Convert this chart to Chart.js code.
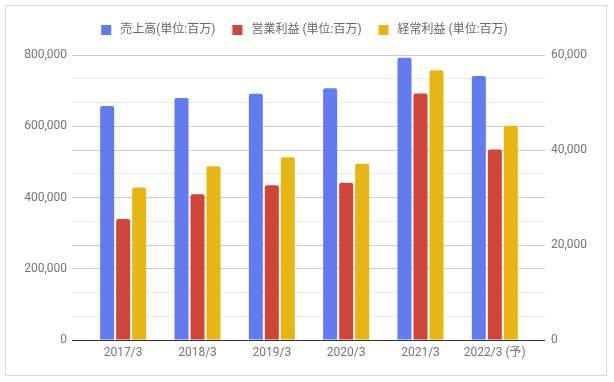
<!DOCTYPE html>
<html>
<head>
<meta charset="utf-8">
<script src="https://cdn.jsdelivr.net/npm/chart.js@4/dist/chart.umd.min.js"></script>
<style>
html,body{margin:0;padding:0;background:#fff;}
#wrap{width:614px;height:382px;position:relative;}
</style>
</head>
<body>
<div id="wrap"><canvas id="c" width="614" height="382"></canvas></div>
<script>
const categories = ['2017/3', '2018/3', '2019/3', '2020/3', '2021/3', '2022/3 (予)'];
const seriesNames = ['売上高(単位:百万)', '営業利益 (単位:百万)', '経常利益 (単位:百万)'];
const sales = [657000, 679000, 691000, 707000, 792000, 741000];
const operatingProfit = [25500, 30700, 32600, 33100, 51900, 40100];
const ordinaryProfit = [32100, 36600, 38500, 37100, 56800, 45100];
const leftTicks = [0, 200000, 400000, 600000, 800000];
const leftTickLabels = ['0', '200,000', '400,000', '600,000', '800,000'];
const rightTicks = [0, 20000, 40000, 60000];
const rightTickLabels = ['0', '20,000', '40,000', '60,000'];
const colors = ['#627bf1', '#cf4539', '#e7b614'];

const SUB = 12; // gridline subdivisions shared by both axes
const leftMax = leftTicks[leftTicks.length - 1];
const rightMax = rightTicks[rightTicks.length - 1];
const leftPer = SUB / (leftTicks.length - 1);   // 3
const rightPer = SUB / (rightTicks.length - 1); // 4

function gridColor(i) {
  if (i === 0) return '#333333';
  if (i % leftPer === 0 || i % rightPer === 0) return '#cccccc';
  return '#ebebeb';
}

Chart.defaults.font.family = "Roboto, 'Noto Sans CJK JP', 'Noto Sans', sans-serif";
Chart.defaults.font.size = 12;

const frame = {
  id: 'frame',
  beforeDraw(chart) {
    const ctx = chart.ctx;
    ctx.save();
    ctx.fillStyle = '#ffffff';
    ctx.fillRect(0, 0, chart.width, chart.height);
    ctx.strokeStyle = '#d9d9d9';
    ctx.lineWidth = 1;
    ctx.strokeRect(5.5, 5.5, 601, 370);
    ctx.restore();
  }
};

const legendSpacer = {
  id: 'legendSpacer',
  beforeUpdate(chart) {
    const lg = chart.legend;
    if (lg && !lg._spaced) {
      const fit = lg.fit;
      lg.fit = function () { fit.call(this); this.height += 7; };
      lg._spaced = true;
    }
  }
};

new Chart(document.getElementById('c'), {
  type: 'bar',
  data: {
    labels: categories,
    datasets: [
      { label: seriesNames[0], data: sales, backgroundColor: colors[0], yAxisID: 'y' },
      { label: seriesNames[1], data: operatingProfit, backgroundColor: colors[1], yAxisID: 'y1' },
      { label: seriesNames[2], data: ordinaryProfit, backgroundColor: colors[2], yAxisID: 'y1' }
    ]
  },
  options: {
    responsive: false,
    animation: false,
    devicePixelRatio: 1,
    layout: { padding: { top: 8, left: 0, right: 8, bottom: 0 } },
    datasets: {
      bar: { categoryPercentage: 0.646, barPercentage: 0.875, borderRadius: 2, borderSkipped: 'start' }
    },
    plugins: {
      legend: {
        position: 'top',
        labels: {
          boxWidth: 16, boxHeight: 16, padding: 14, color: '#666666',
          font: { size: 12 },
          generateLabels(chart) {
            return chart.data.datasets.map((ds, i) => ({
              text: ds.label,
              fillStyle: ds.backgroundColor,
              strokeStyle: '#ffffff',
              lineWidth: 6,
              fontColor: '#666666',
              hidden: !chart.isDatasetVisible(i),
              datasetIndex: i
            }));
          }
        }
      },
      tooltip: { enabled: false }
    },
    scales: {
      x: {
        grid: { display: false, drawTicks: false },
        border: { display: false },
        ticks: { color: '#757575', padding: 6, font: { size: 12 }, maxRotation: 0, autoSkip: false },
        afterFit(s) { s.height = 42; }
      },
      y: {
        position: 'left',
        min: 0, max: leftMax,
        border: { display: false },
        grid: {
          color: (ctx) => gridColor(ctx.index),
          tickLength: 14,
          lineWidth: 1
        },
        ticks: {
          stepSize: leftMax / SUB,
          autoSkip: false,
          color: '#757575',
          padding: 5,
          font: { size: 12 },
          callback: (v, i) => (i % leftPer === 0 ? leftTickLabels[i / leftPer] : '')
        },
        afterFit(s) { s.width = 86; }
      },
      y1: {
        position: 'right',
        min: 0, max: rightMax,
        border: { display: false },
        grid: {
          drawOnChartArea: false,
          color: (ctx) => gridColor(ctx.index),
          tickLength: 13
        },
        ticks: {
          stepSize: rightMax / SUB,
          autoSkip: false,
          color: '#757575',
          padding: 6,
          font: { size: 12 },
          callback: (v, i) => (i % rightPer === 0 ? rightTickLabels[i / rightPer] : '')
        },
        afterFit(s) { s.width = 74; }
      }
    }
  },
  plugins: [frame, legendSpacer]
});
</script>
</body>
</html>
